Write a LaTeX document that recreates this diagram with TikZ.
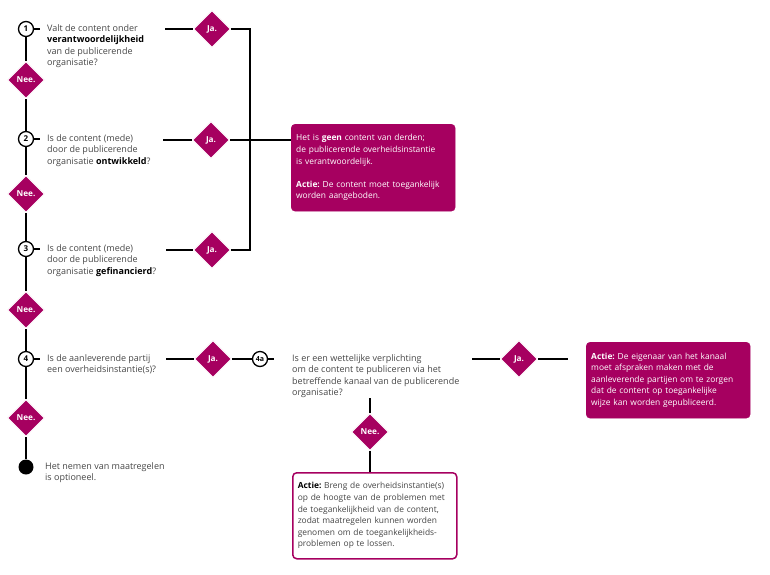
\documentclass[tikz,border=0pt]{standalone}
\usepackage{fontspec}
\setmainfont{Open Sans}
\usetikzlibrary{shapes.geometric, positioning}
\definecolor{ropaars}{RGB}{166,0,96}
\definecolor{tekstgrijs}{RGB}{70,70,70}
\hyphenpenalty=10000
\exhyphenpenalty=10000
\frenchspacing

\begin{document}
\begin{tikzpicture}[x=1pt, y=-1pt,
    lijn/.style={line width=1.3pt, black},
    stap/.style={circle, draw, line width=1.3pt, fill=white, minimum size=15pt, inner sep=0pt, font=\fontsize{8}{9}\selectfont\bfseries},
    keuze/.style={diamond, draw=white, line width=1pt, fill=ropaars, minimum size=37pt, inner sep=0pt, text=white, font=\fontsize{8.2}{9}\selectfont\bfseries},
    vraag/.style={anchor=north west, inner sep=0pt, align=left, text=tekstgrijs, font=\fontsize{9}{11.6}\selectfont},
    actie/.style={rectangle, draw=ropaars, fill=ropaars, rounded corners=4pt, text=white, anchor=north west, text width=154pt, inner xsep=5pt, align=left, font=\fontsize{8.4}{11.6}\selectfont},
    actiewit/.style={actie, fill=white, line width=1.5pt, text=tekstgrijs}
 ]
\useasboundingbox (0,0) rectangle (770,574);

% linker kolom
\node[stap] (Stap1) at (26,29) {1};
\node[vraag] (Vraag1) at (47,24) {Valt de content onder\\\textcolor{black}{\textbf{verantwoordelijkheid}}\\van de publicerende\\organisatie?};
\node[keuze] (Nee1) at (26,80) {Nee.};

\node[stap] (Stap2) at (26,139) {2};
\node[vraag] (Vraag2) at (47,134) {Is de content (mede)\\door de publicerende\\organisatie \textcolor{black}{\textbf{ontwikkeld}}?};
\node[keuze] (Nee2) at (26,194) {Nee.};

\node[stap] (Stap3) at (26,249) {3};
\node[vraag] (Vraag3) at (47,244) {Is de content (mede)\\door de publicerende\\organisatie \textcolor{black}{\textbf{gefinancierd}}?};
\node[keuze] (Nee3) at (26,310) {Nee.};

\node[stap] (Stap4) at (26,359) {4};
\node[vraag] (Vraag4) at (47,354) {Is de aanleverende partij\\een overheidsinstantie(s)?};
\node[keuze] (Nee4) at (26,418) {Nee.};

\node[circle, fill=black, minimum size=15pt, inner sep=0pt] (Eind) at (26,467) {};
\node[vraag] (EindTekst) at (45,462) {Het nemen van maatregelen\\is optioneel.};

\draw[lijn] (Stap1) -- (Nee1) -- (Stap2) -- (Nee2) -- (Stap3) -- (Nee3) -- (Stap4) -- (Nee4) -- (Eind);
\draw[lijn] (Stap1.east) -- ++(6,0);
\draw[lijn] (Stap2.east) -- ++(6,0);
\draw[lijn] (Stap3.east) -- ++(6,0);
\draw[lijn] (Stap4.east) -- ++(6,0);

% ja-takken
\node[keuze] (Ja1) at (212,29) {Ja.};
\node[keuze] (Ja2) at (211,140) {Ja.};
\node[keuze] (Ja3) at (212,250) {Ja.};
\node[keuze] (Ja4) at (213,359) {Ja.};
\coordinate (Van1) at (165,29);
\coordinate (Van2) at (163,140);
\coordinate (Van3) at (166,250);
\coordinate (Van4) at (166,359);
\draw[lijn] (Van1) -- (Ja1);
\draw[lijn] (Van2) -- (Ja2);
\draw[lijn] (Van3) -- (Ja3);
\draw[lijn] (Van4) -- (Ja4);

\node[actie, minimum width=164pt, minimum height=87pt] (Actie1) at (291,124) {Het is \textbf{geen} content van derden;\\de publicerende overheidsinstantie\\is verantwoordelijk.\\[11.6pt]\textbf{Actie:} De content moet toegankelijk\\worden aangeboden.};
\coordinate (BusBoven) at (250,29);
\coordinate (BusOnder) at (250,250);
\draw[lijn] (Ja1) -- (BusBoven) -- (BusOnder) -- (Ja3);
\draw[lijn] (Ja2) -- (Ja2 -| Actie1.west);

% vraag 4a
\node[stap, font=\fontsize{7}{8}\selectfont\bfseries] (Stap4a) at (260,359) {4a};
\draw[lijn] (Ja4) -- (Stap4a);
\draw[lijn] (Stap4a.east) -- ++(6,0);
\node[vraag] (Vraag4a) at (292,354) {Is er een wettelijke verplichting\\om de content te publiceren via het\\betreffende kanaal van de publicerende\\organisatie?};

\node[keuze] (Ja5) at (519,359) {Ja.};
\coordinate (Van5) at (472,359);
\coordinate (Naar5) at (568,359);
\draw[lijn] (Van5) -- (Ja5) -- (Naar5);
\node[actie, minimum width=164pt, minimum height=76pt] (Actie2) at (586,342) {\textbf{Actie:} De eigenaar van het kanaal\\moet afspraken maken met de\\aanleverende partijen om te zorgen\\dat de content op toegankelijke\\wijze kan worden gepubliceerd.};

\node[keuze] (Nee5) at (370,432) {Nee.};
\coordinate (Van6) at (370,398);
\node[actiewit, minimum width=164pt, minimum height=86pt] (Actie3) at (292,472) {\textcolor{black}{\textbf{Actie:}} Breng de overheidsinstantie(s)\\op de hoogte van de problemen met\\de toegankelijkheid van de content,\\zodat maatregelen kunnen worden\\genomen om de toegankelijkheids-\\problemen op te lossen.};
\draw[lijn] (Van6) -- (Nee5) -- (Nee5 |- Actie3.north);

\end{tikzpicture}
\end{document}
